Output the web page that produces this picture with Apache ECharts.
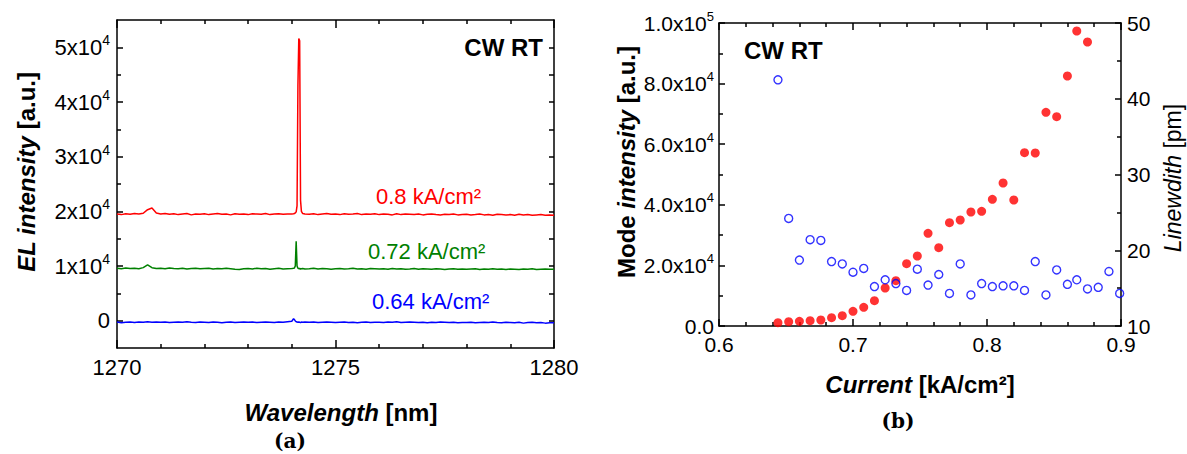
<!DOCTYPE html>
<html>
<head>
<meta charset="utf-8">
<script src="https://cdn.jsdelivr.net/npm/echarts@6/dist/echarts.min.js"></script>
<style>
  html, body { margin: 0; padding: 0; background: #fff; }
  #chart { width: 1187px; height: 454px; }
</style>
</head>
<body>
<div id="chart"></div>
<script>
// (a) EL spectra, wavelength in nm
const wavelength = [
  1270, 1270.1, 1270.2, 1270.3, 1270.4, 1270.5, 1270.6, 1270.7, 1270.8, 1270.9,
  1271, 1271.1, 1271.2, 1271.3, 1271.4, 1271.5, 1271.6, 1271.7, 1271.8, 1271.9,
  1272, 1272.1, 1272.2, 1272.3, 1272.4, 1272.5, 1272.6, 1272.7, 1272.8, 1272.9,
  1273, 1273.1, 1273.2, 1273.3, 1273.4, 1273.5, 1273.6, 1273.7, 1273.8, 1273.9,
  1274, 1274.04, 1274.06, 1274.08, 1274.1, 1274.12, 1274.14, 1274.16, 1274.18, 1274.2, 1274.22, 1274.25, 1274.3,
  1274.4, 1274.5, 1274.6, 1274.7, 1274.8, 1274.9,
  1275, 1275.1, 1275.2, 1275.3, 1275.4, 1275.5, 1275.6, 1275.7, 1275.8, 1275.9,
  1276, 1276.1, 1276.2, 1276.3, 1276.4, 1276.5, 1276.6, 1276.7, 1276.8, 1276.9,
  1277, 1277.1, 1277.2, 1277.3, 1277.4, 1277.5, 1277.6, 1277.7, 1277.8, 1277.9,
  1278, 1278.1, 1278.2, 1278.3, 1278.4, 1278.5, 1278.6, 1278.7, 1278.8, 1278.9,
  1279, 1279.1, 1279.2, 1279.3, 1279.4, 1279.5, 1279.6, 1279.7, 1279.8, 1279.9,
  1280
]
const el080 = [
  19500, 19400, 19550, 19450, 19600, 19500, 19650, 20300, 20600, 19700,
  19500, 19600, 19450, 19550, 19400, 19500, 19600, 19350, 19500, 19450,
  19550, 19400, 19500, 19600, 19450, 19500, 19350, 19550, 19450, 19500,
  19400, 19550, 19500, 19450, 19600, 19400, 19500, 19550, 19450, 19500,
  19500, 19550, 19600, 19700, 19900, 21000, 43000, 51600, 51200, 22000, 20000, 19600, 19500,
  19450, 19550, 19400, 19500, 19600, 19450,
  19500, 19400, 19550, 19450, 19500, 19600, 19400, 19500, 19450, 19550,
  19400, 19500, 19450, 19350, 19550, 19400, 19500, 19450, 19400, 19500,
  19350, 19450, 19500, 19400, 19350, 19450, 19400, 19500, 19350, 19400,
  19450, 19350, 19400, 19500, 19350, 19400, 19300, 19450, 19400, 19350,
  19400, 19300, 19450, 19350, 19400, 19300, 19350, 19400, 19300, 19350,
  19300
]
const el072 = [
  9600, 9500, 9650, 9550, 9600, 9500, 9700, 10200, 9700, 9550,
  9600, 9500, 9650, 9550, 9500, 9600, 9450, 9550, 9600, 9500,
  9550, 9600, 9450, 9550, 9500, 9600, 9500, 9400, 9350, 9500,
  9550, 9450, 9600, 9500, 9550, 9400, 9500, 9600, 9450, 9500,
  9550, 9600, 9650, 10000, 14500, 10000, 9600, 9500, 9550, 9450, 9500, 9550, 9450,
  9500, 9600, 9450, 9550, 9500, 9400,
  9500, 9550, 9450, 9500, 9600, 9450, 9500, 9400, 9550, 9500,
  9450, 9500, 9400, 9550, 9450, 9500, 9400, 9450, 9550, 9400,
  9500, 9450, 9400, 9500, 9450, 9350, 9450, 9500, 9400, 9450,
  9400, 9450, 9500, 9350, 9450, 9400, 9500, 9400, 9450, 9350,
  9450, 9400, 9350, 9450, 9400, 9500, 9350, 9400, 9450, 9400,
  9400
]
const el064 = [
  -250, -400, -300, -250, -350, -250, -300, -200, -300, -250,
  -300, -250, -350, -300, -250, -300, -200, -300, -350, -250,
  -300, -350, -250, -300, -400, -300, -250, -350, -300, -250,
  -300, -250, -350, -300, -250, -300, -350, -250, -300, -200,
  -100, 350, 200, -50, -200, -250, -300, -250, -300, -350, -250, -300, -250,
  -300, -250, -350, -300, -250, -300,
  -350, -300, -250, -350, -300, -400, -300, -250, -350, -300,
  -300, -350, -250, -300, -200, -350, -300, -250, -300, -350,
  -300, -400, -300, -350, -250, -300, -350, -300, -400, -350,
  -350, -300, -400, -350, -300, -350, -250, -350, -400, -300,
  -350, -400, -300, -450, -350, -300, -400, -350, -450, -400,
  -400
]

// (b) mode intensity and linewidth vs current density (kA/cm2)
const current = [
  0.644, 0.652, 0.660, 0.668, 0.676, 0.684, 0.692, 0.700, 0.708, 0.716,
  0.724, 0.732, 0.740, 0.748, 0.756, 0.764, 0.772, 0.780, 0.788, 0.796,
  0.804, 0.812, 0.820, 0.828, 0.836, 0.844, 0.852, 0.860, 0.867, 0.875,
  0.883, 0.891, 0.899
]
const modeIntensity = [
  1090, 1420, 1540, 1750, 1980, 2740, 3410, 4840, 6160, 8360,
  12540, 14950, 20560, 23100, 30590, 25850, 34100, 34980, 37620, 37850,
  41800, 47190, 41580, 57190, 57090, 70520, 69080, 82510, 97360, 93730
]
const linewidth = [
  42.5, 24.2, 18.7, 21.4, 21.3, 18.5, 18.2, 17.1, 17.6, 15.2,
  16.1, 15.6, 14.7, 17.5, 15.4, 16.8, 14.3, 18.2, 14.1, 15.6,
  15.2, 15.3, 15.3, 14.7, 18.5, 14.1, 17.4, 15.5, 16.1, 14.9,
  15.1, 17.2, 14.3
]

const elTicks = [0, 10000, 20000, 30000, 40000, 50000]
const elMinorTicks = [5000, 15000, 25000, 35000, 45000]
const elAllTicks = [0, 5000, 10000, 15000, 20000, 25000, 30000, 35000, 40000, 45000, 50000]

const FONT = '"Liberation Sans", Arial, sans-serif'
const BLACK = '#000'
const line = { show: true, onZero: false, lineStyle: { color: BLACK, width: 1.5 } }
const tickStyle = { color: BLACK, width: 1.5 }

const supRich = (size, supSize) => ({
  b: { fontSize: size, fontFamily: FONT, color: BLACK, lineHeight: size + 6 },
  s: { fontSize: supSize, fontFamily: FONT, color: BLACK, lineHeight: supSize, verticalAlign: 'top' }
})

// rich styles for the axis titles
const titleRich = {
  bi: { font: `italic bold 24px ${FONT}`, fill: BLACK },
  b: { font: `bold 24px ${FONT}`, fill: BLACK },
  i: { font: `italic 23px ${FONT}`, fill: BLACK },
  r: { font: `23px ${FONT}`, fill: BLACK }
}

function pairs(xs, ys) {
  return ys.map((y, i) => [xs[i], y])
}

const chart = echarts.init(document.getElementById('chart'), null, { renderer: 'svg' })

const option = {
  animation: false,
  backgroundColor: '#fff',
  grid: [
    { left: 117, top: 20, right: 633, bottom: 106 },
    { left: 719, top: 23, right: 66, bottom: 128 }
  ],
  xAxis: [
    {
      type: 'value', gridIndex: 0, position: 'bottom', min: 1270, max: 1280, interval: 5,
      axisLine: line,
      axisTick: { inside: true, length: 8, lineStyle: tickStyle },
      minorTick: { show: true, splitNumber: 5, length: 4, lineStyle: tickStyle },
      axisLabel: { margin: 8, fontSize: 22, fontFamily: FONT, color: BLACK, formatter: (v) => String(v) },
      splitLine: { show: false }
    },
    {
      type: 'value', gridIndex: 0, position: 'top', min: 1270, max: 1280, interval: 5,
      axisLine: line,
      axisTick: { inside: true, length: 8, lineStyle: tickStyle },
      minorTick: { show: true, splitNumber: 5, length: 4, lineStyle: tickStyle },
      axisLabel: { show: false },
      splitLine: { show: false }
    },
    {
      type: 'value', gridIndex: 1, position: 'bottom', min: 0.6, max: 0.9, interval: 0.1,
      axisLine: line,
      axisTick: { inside: true, length: 7, lineStyle: tickStyle },
      minorTick: { show: true, splitNumber: 5, length: 4, lineStyle: tickStyle },
      axisLabel: { margin: 8, fontSize: 21, fontFamily: FONT, color: BLACK, formatter: (v) => v.toFixed(1) },
      splitLine: { show: false }
    },
    {
      type: 'value', gridIndex: 1, position: 'top', min: 0.6, max: 0.9, interval: 0.1,
      axisLine: line,
      axisTick: { inside: true, length: 7, lineStyle: tickStyle },
      minorTick: { show: true, splitNumber: 5, length: 4, lineStyle: tickStyle },
      axisLabel: { show: false },
      splitLine: { show: false }
    }
  ],
  yAxis: [
    {
      type: 'value', gridIndex: 0, position: 'left', min: -5000, max: 55000,
      axisLine: line,
      axisTick: { inside: true, length: 6, customValues: elTicks, lineStyle: tickStyle },
      axisLabel: {
        margin: 7, customValues: elTicks, rich: supRich(22, 14),
        formatter: (v) => (v === 0 ? '{b|0}' : `{b|${v / 10000}x10}{s|4}`)
      },
      splitLine: { show: false }
    },
    {
      type: 'value', gridIndex: 0, position: 'left', min: -5000, max: 55000,
      axisLine: { show: false },
      axisTick: { inside: true, length: 4, customValues: elMinorTicks, lineStyle: tickStyle },
      axisLabel: { show: false },
      splitLine: { show: false }
    },
    {
      type: 'value', gridIndex: 0, position: 'right', min: -5000, max: 55000,
      axisLine: line,
      axisTick: { inside: true, length: 5, customValues: elAllTicks, lineStyle: tickStyle },
      axisLabel: { show: false },
      splitLine: { show: false }
    },
    {
      type: 'value', gridIndex: 1, position: 'left', min: 0, max: 100000, interval: 20000,
      axisLine: line,
      axisTick: { inside: true, length: 6, lineStyle: tickStyle },
      minorTick: { show: true, splitNumber: 2, length: 4, lineStyle: tickStyle },
      axisLabel: {
        margin: 5, rich: supRich(21, 13),
        formatter: (v) => {
          if (v === 0) return '{b|0.0}'
          if (v === 100000) return '{b|1.0x10}{s|5}'
          return `{b|${(v / 10000).toFixed(1)}x10}{s|4}`
        }
      },
      splitLine: { show: false }
    },
    {
      type: 'value', gridIndex: 1, position: 'right', min: 10, max: 50, interval: 10,
      axisLine: line,
      axisTick: { inside: true, length: 6, lineStyle: tickStyle },
      minorTick: { show: true, splitNumber: 2, length: 4, lineStyle: tickStyle },
      axisLabel: { margin: 6, fontSize: 21, fontFamily: FONT, color: BLACK },
      splitLine: { show: false }
    }
  ],
  series: [
    {
      name: '0.8 kA/cm²', type: 'line', xAxisIndex: 0, yAxisIndex: 0, symbol: 'none',
      lineStyle: { color: '#ff0000', width: 1.5 }, data: pairs(wavelength, el080)
    },
    {
      name: '0.72 kA/cm²', type: 'line', xAxisIndex: 0, yAxisIndex: 0, symbol: 'none',
      lineStyle: { color: '#008000', width: 1.5 }, data: pairs(wavelength, el072)
    },
    {
      name: '0.64 kA/cm²', type: 'line', xAxisIndex: 0, yAxisIndex: 0, symbol: 'none',
      lineStyle: { color: '#0000ff', width: 1.5 }, data: pairs(wavelength, el064)
    },
    {
      name: 'Mode intensity', type: 'scatter', xAxisIndex: 2, yAxisIndex: 3,
      symbol: 'circle', symbolSize: 9, itemStyle: { color: '#ff0000' },
      data: pairs(current, modeIntensity)
    },
    {
      name: 'Linewidth', type: 'scatter', xAxisIndex: 2, yAxisIndex: 4,
      symbol: 'circle', symbolSize: 8, clip: false,
      itemStyle: { color: 'rgba(0,0,0,0)', borderColor: '#0000ff', borderWidth: 1.4 },
      data: pairs(current, linewidth)
    }
  ],
  graphic: [
    // panel (a) texts
    { type: 'text', x: 543, y: 47, style: { text: 'CW RT', font: `bold 24px ${FONT}`, fill: BLACK, align: 'right', verticalAlign: 'middle' } },
    { type: 'text', x: 376, y: 196, style: { text: '0.8 kA/cm²', font: `22px ${FONT}`, fill: '#ff0000', verticalAlign: 'middle' } },
    { type: 'text', x: 368, y: 251, style: { text: '0.72 kA/cm²', font: `22px ${FONT}`, fill: '#008000', verticalAlign: 'middle' } },
    { type: 'text', x: 372, y: 301, style: { text: '0.64 kA/cm²', font: `22px ${FONT}`, fill: '#0000ff', verticalAlign: 'middle' } },
    {
      type: 'text', x: 26, y: 172, rotation: Math.PI / 2,
      style: { text: '{bi|EL intensity }{b|[a.u.]}', align: 'center', verticalAlign: 'middle', rich: titleRich }
    },
    {
      type: 'text', x: 341, y: 412,
      style: { text: '{bi|Wavelength }{b|[nm]}', align: 'center', verticalAlign: 'middle', rich: titleRich }
    },
    { type: 'text', x: 290, y: 441, style: { text: '(a)', font: `bold 20px "DejaVu Serif", serif`, fill: BLACK, align: 'center', verticalAlign: 'middle' } },
    // panel (b) texts
    { type: 'text', x: 744, y: 50, style: { text: 'CW RT', font: `bold 24px ${FONT}`, fill: BLACK, verticalAlign: 'middle' } },
    {
      type: 'text', x: 626, y: 162, rotation: Math.PI / 2,
      style: { text: '{b|Mode }{bi|intensity }{b|[a.u.]}', align: 'center', verticalAlign: 'middle', rich: titleRich }
    },
    {
      type: 'text', x: 1173, y: 178, rotation: Math.PI / 2,
      style: { text: '{i|Linewdith }{r|[pm]}', align: 'center', verticalAlign: 'middle', rich: titleRich }
    },
    {
      type: 'text', x: 920, y: 384,
      style: { text: '{bi|Current }{b|[kA/cm²]}', align: 'center', verticalAlign: 'middle', rich: titleRich }
    },
    { type: 'text', x: 898, y: 421, style: { text: '(b)', font: `bold 20px "DejaVu Serif", serif`, fill: BLACK, align: 'center', verticalAlign: 'middle' } }
  ]
}

chart.setOption(option)
</script>
</body>
</html>
